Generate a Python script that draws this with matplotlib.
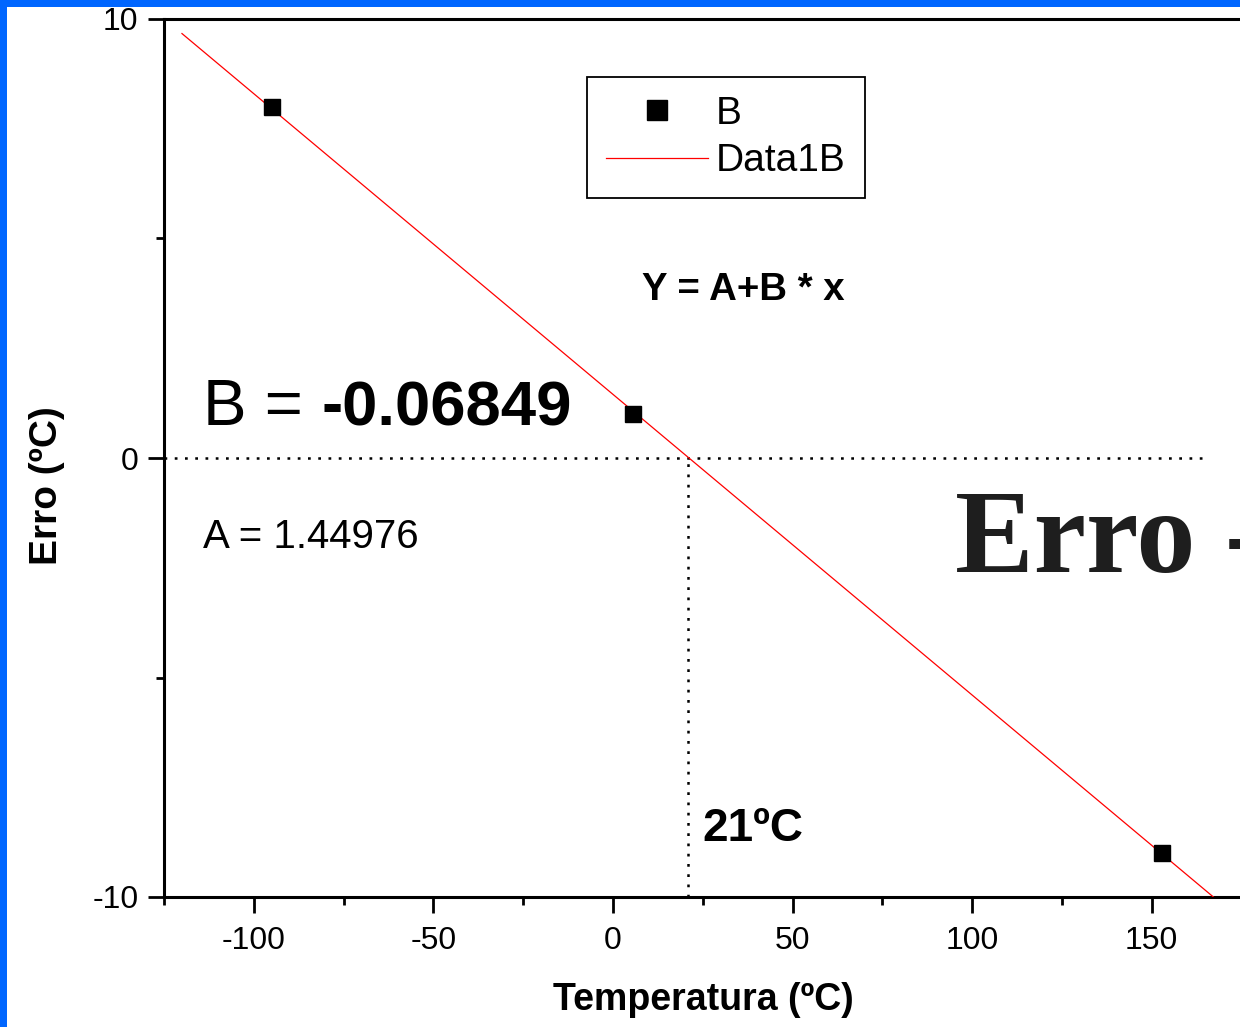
import numpy as np
import matplotlib
matplotlib.use("Agg")
import matplotlib.pyplot as plt
from matplotlib.patches import Rectangle
from matplotlib.ticker import MultipleLocator

plt.rcParams['font.family'] = ['Liberation Sans', 'DejaVu Sans']
plt.rcParams['axes.unicode_minus'] = False

# dados medidos
temp = [-95, 5.7, 153]
erro = [8.0, 1.0, -9.0]

# ajuste linear Y = A + B * x
A = 1.44976
B = -0.06849
fit_x = np.array([-120, 167.2])
fit_y = A + B * fit_x

x_zero = 21  # temperatura onde o erro e zero

W, H = 1240, 1027
fig = plt.figure(figsize=(W / 100, H / 100), dpi=100, facecolor='#0066ff')
# fundo branco com borda azul a esquerda e em cima
fig.patches.append(Rectangle((7 / W, 0), 1, 1 - 7 / H, transform=fig.transFigure,
                             facecolor='white', edgecolor='none', zorder=-10))

ax = fig.add_axes([164 / W, 1 - 897 / H, (1241.5 - 164) / W, (897 - 19) / H])
ax.set_facecolor('white')
ax.set_xlim(-125, 175)
ax.set_ylim(-10, 10)

# linhas pontilhadas
ax.plot([-125, 165], [0, 0], color='black', lw=1.8, linestyle=(0, (1.1, 3.0)))
ax.plot([x_zero, x_zero], [-10, 0], color='black', lw=1.8, linestyle=(0, (1.1, 3.0)))

ax.plot(fit_x, fit_y, color='red', lw=0.9, label='Data1B', zorder=3)
ax.plot(temp, erro, linestyle='none', marker='s', color='black', markersize=12,
        label='B', zorder=4)

# eixos
for s in ax.spines.values():
    s.set_linewidth(2.2)
ax.xaxis.set_major_locator(MultipleLocator(50))
ax.xaxis.set_minor_locator(MultipleLocator(25))
ax.yaxis.set_major_locator(MultipleLocator(10))
ax.yaxis.set_minor_locator(MultipleLocator(5))
ax.tick_params(which='major', direction='out', length=11.5, width=2, labelsize=23)
ax.tick_params(which='minor', direction='out', length=5.8, width=2)
ax.tick_params(axis='x', which='major', pad=9.5)
ax.tick_params(axis='y', which='major', pad=7)

# rotulos dos eixos
fig.text(703 / W, 1 - 1000 / H, 'Temperatura (ºC)', ha='center', va='center',
         fontsize=27, fontweight='bold')
fig.text(47 / W, 1 - 486 / H, 'Erro (ºC)', ha='center', va='center',
         rotation=90, fontsize=28, fontweight='bold')

# legenda
handles, labels = ax.get_legend_handles_labels()
leg = ax.legend(handles[::-1], labels[::-1], loc='upper left',
                bbox_to_anchor=(587 / W, 1 - 77 / H), bbox_transform=fig.transFigure,
                fontsize=28, frameon=True, fancybox=False, borderpad=0.48,
                handlelength=2.62, handletextpad=0.22, labelspacing=0.3,
                markerscale=1.2, borderaxespad=0, framealpha=1)
leg.get_frame().set_edgecolor('black')
leg.get_frame().set_linewidth(1.3)

# anotacoes
ax.text(8.1, 3.6, 'Y = A+B * x', fontsize=27.6, fontweight='bold', va='baseline')
ax.text(-114.2, 0.75, 'B = ', fontsize=47, va='baseline')
ax.text(-81.1, 0.75, '-0.06849', fontsize=45.6, fontweight='bold', va='baseline')
ax.text(-114.2, -2.05, 'A = 1.44976', fontsize=29, va='baseline')
ax.text(24.8, -8.72, '21ºC', fontsize=33, fontweight='bold', va='baseline')
ax.text(95.3, -2.6, 'Erro -', fontsize=85, fontweight='bold', va='baseline',
        family=['Liberation Serif', 'DejaVu Serif'], color='#1e1e1e', clip_on=False)

fig.savefig('out.png', dpi=100, facecolor=fig.get_facecolor())
